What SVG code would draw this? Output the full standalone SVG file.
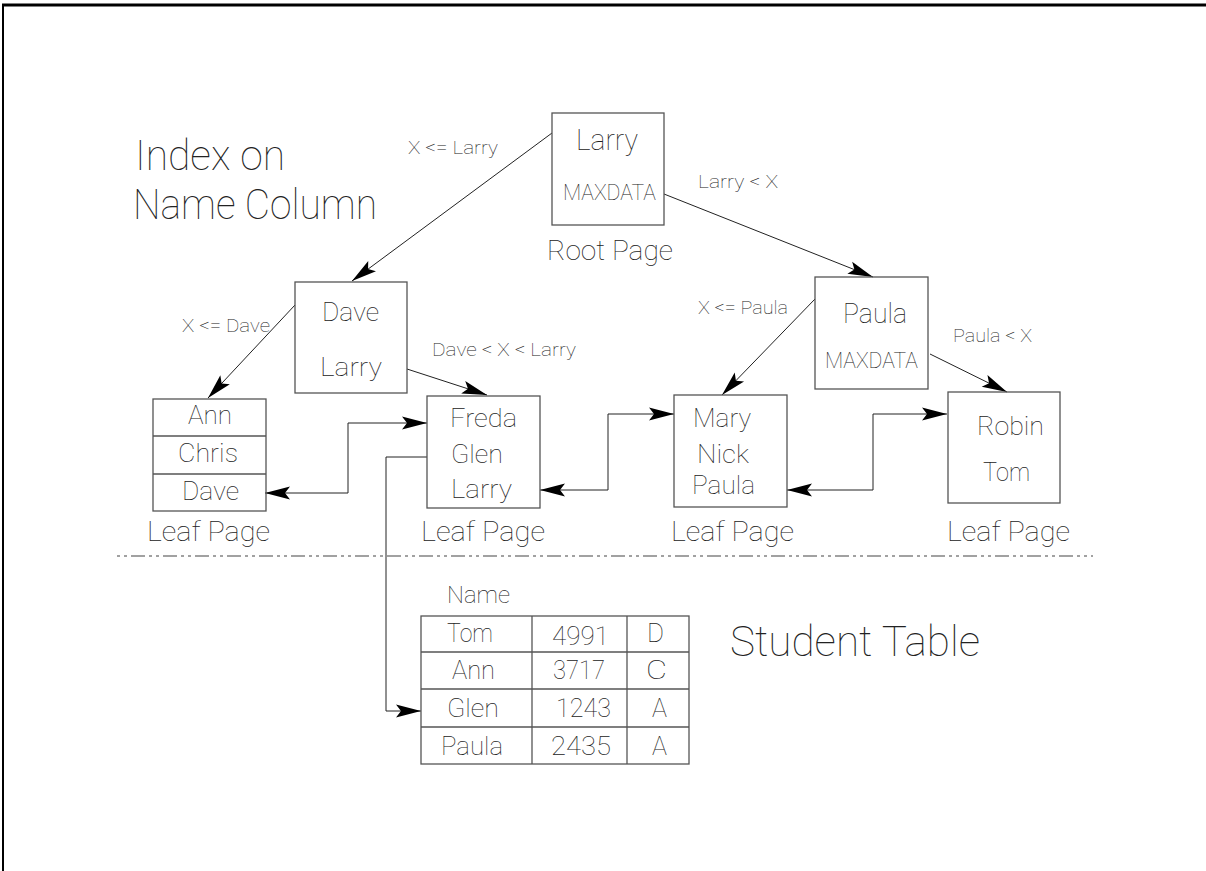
<svg xmlns="http://www.w3.org/2000/svg" width="1206" height="871" viewBox="0 0 1206 871">
<style>
text{font-family:Roboto,"Liberation Sans",sans-serif;font-weight:100;fill:#222}
.box{fill:none;stroke:#555;stroke-width:1.3}
.con{fill:none;stroke:#222;stroke-width:1}
.t42{font-size:42px}.t28{font-size:28px}.t29{font-size:29px}.t27{font-size:27px}.t25{font-size:25px}.t26{font-size:26px}.t23{font-size:23px}.t22{font-size:22px}.t19{font-size:19px}
</style>
<defs>
<marker id="ah" viewBox="-26 -7 27 14" refX="0" refY="0" markerWidth="27" markerHeight="14" markerUnits="userSpaceOnUse" orient="auto-start-reverse">
<path d="M0,0 L-25,-6.5 L-20,0 L-25,6.5 Z" fill="#000"/>
</marker>
</defs>
<rect width="1206" height="871" fill="#fff"/>
<line x1="2" y1="5" x2="1206" y2="5" stroke="#000" stroke-width="3"/>
<line x1="3" y1="4" x2="3" y2="871" stroke="#000" stroke-width="2"/>
<line x1="117" y1="556" x2="1093" y2="556" stroke="#444" stroke-width="1.2" stroke-dasharray="3 4 3 4 14 4"/>

<g id="title">
<text class="t42" x="135" y="170" textLength="150" lengthAdjust="spacingAndGlyphs">Index on</text>
<text class="t42" x="133" y="219" textLength="244" lengthAdjust="spacingAndGlyphs">Name Column</text>
</g>

<g id="connectors">
<line class="con" x1="552" y1="133" x2="352" y2="281" marker-end="url(#ah)"/>
<line class="con" x1="664" y1="194" x2="873" y2="277" marker-end="url(#ah)"/>
<line class="con" x1="295" y1="305" x2="208" y2="398" marker-end="url(#ah)"/>
<line class="con" x1="407" y1="369" x2="487" y2="395" marker-end="url(#ah)"/>
<line class="con" x1="815" y1="299" x2="722" y2="395" marker-end="url(#ah)"/>
<line class="con" x1="930" y1="354" x2="1007" y2="392" marker-end="url(#ah)"/>
<polyline class="con" points="265,493 348,493 348,423 427,423" marker-start="url(#ah)" marker-end="url(#ah)"/>
<polyline class="con" points="540,490 608,490 608,414 674,414" marker-start="url(#ah)" marker-end="url(#ah)"/>
<polyline class="con" points="787,490 873,490 873,414 947,414" marker-start="url(#ah)" marker-end="url(#ah)"/>
<polyline class="con" points="427,457 386,457 386,711 421,711" marker-end="url(#ah)"/>
</g>

<g id="edge-labels">
<text class="t19" x="408" y="154" textLength="90" lengthAdjust="spacingAndGlyphs">X &lt;= Larry</text>
<text class="t19" x="698" y="188" textLength="80" lengthAdjust="spacingAndGlyphs">Larry &lt; X</text>
<text class="t19" x="182" y="332" textLength="88" lengthAdjust="spacingAndGlyphs">X &lt;= Dave</text>
<text class="t19" x="432" y="356" textLength="144" lengthAdjust="spacingAndGlyphs">Dave &lt; X &lt; Larry</text>
<text class="t19" x="698" y="314" textLength="90" lengthAdjust="spacingAndGlyphs">X &lt;= Paula</text>
<text class="t19" x="953" y="342" textLength="79" lengthAdjust="spacingAndGlyphs">Paula &lt; X</text>
</g>

<g id="root">
<rect class="box" x="552" y="113" width="112" height="112"/>
<text class="t29" x="576" y="150" textLength="62" lengthAdjust="spacingAndGlyphs">Larry</text>
<text class="t22" x="563" y="200" textLength="93" lengthAdjust="spacingAndGlyphs">MAXDATA</text>
<text class="t28" x="547" y="260" textLength="126" lengthAdjust="spacingAndGlyphs">Root Page</text>
</g>

<g id="dave-node">
<rect class="box" x="295" y="282" width="112" height="111"/>
<text class="t25" x="322" y="321" textLength="57" lengthAdjust="spacingAndGlyphs">Dave</text>
<text class="t25" x="320" y="376" textLength="62" lengthAdjust="spacingAndGlyphs">Larry</text>
</g>

<g id="paula-node">
<rect class="box" x="815" y="277" width="113" height="112"/>
<text class="t27" x="843" y="323" textLength="64" lengthAdjust="spacingAndGlyphs">Paula</text>
<text class="t22" x="825" y="368" textLength="93" lengthAdjust="spacingAndGlyphs">MAXDATA</text>
</g>

<g id="leaf-ann">
<rect class="box" x="153" y="399" width="113" height="112"/>
<line class="box" x1="153" y1="436" x2="266" y2="436"/>
<line class="box" x1="153" y1="474" x2="266" y2="474"/>
<text class="t25" x="188" y="424" textLength="44" lengthAdjust="spacingAndGlyphs">Ann</text>
<text class="t25" x="178" y="462" textLength="60" lengthAdjust="spacingAndGlyphs">Chris</text>
<text class="t25" x="182" y="500" textLength="57" lengthAdjust="spacingAndGlyphs">Dave</text>
<text class="t28" x="147" y="541" textLength="123" lengthAdjust="spacingAndGlyphs">Leaf Page</text>
</g>

<g id="leaf-freda">
<rect class="box" x="427" y="396" width="113" height="112"/>
<text class="t25" x="450" y="427" textLength="67" lengthAdjust="spacingAndGlyphs">Freda</text>
<text class="t25" x="451" y="463" textLength="52" lengthAdjust="spacingAndGlyphs">Glen</text>
<text class="t25" x="451" y="498" textLength="61" lengthAdjust="spacingAndGlyphs">Larry</text>
<text class="t28" x="421" y="541" textLength="124" lengthAdjust="spacingAndGlyphs">Leaf Page</text>
</g>

<g id="leaf-mary">
<rect class="box" x="674" y="395" width="113" height="112"/>
<text class="t25" x="693" y="427" textLength="58" lengthAdjust="spacingAndGlyphs">Mary</text>
<text class="t25" x="697" y="463" textLength="52" lengthAdjust="spacingAndGlyphs">Nick</text>
<text class="t25" x="692" y="494" textLength="63" lengthAdjust="spacingAndGlyphs">Paula</text>
<text class="t28" x="671" y="541" textLength="123" lengthAdjust="spacingAndGlyphs">Leaf Page</text>
</g>

<g id="leaf-robin">
<rect class="box" x="948" y="392" width="112" height="111"/>
<text class="t25" x="977" y="435" textLength="67" lengthAdjust="spacingAndGlyphs">Robin</text>
<text class="t25" x="983" y="481" textLength="47" lengthAdjust="spacingAndGlyphs">Tom</text>
<text class="t28" x="947" y="541" textLength="123" lengthAdjust="spacingAndGlyphs">Leaf Page</text>
</g>

<g id="student-table">
<text class="t23" x="447" y="603" textLength="63" lengthAdjust="spacingAndGlyphs">Name</text>
<rect class="box" x="421" y="616" width="268" height="148"/>
<line class="box" x1="421" y1="652" x2="689" y2="652"/>
<line class="box" x1="421" y1="689" x2="689" y2="689"/>
<line class="box" x1="421" y1="727" x2="689" y2="727"/>
<line class="box" x1="532" y1="616" x2="532" y2="764"/>
<line class="box" x1="627" y1="616" x2="627" y2="764"/>
<text class="t26" x="447" y="642" textLength="46" lengthAdjust="spacingAndGlyphs">Tom</text>
<text class="t26" x="552" y="645" textLength="57" lengthAdjust="spacingAndGlyphs">4991</text>
<text class="t26" x="647" y="642" textLength="17" lengthAdjust="spacingAndGlyphs">D</text>
<text class="t26" x="452" y="679" textLength="43" lengthAdjust="spacingAndGlyphs">Ann</text>
<text class="t26" x="553" y="679" textLength="52" lengthAdjust="spacingAndGlyphs">3717</text>
<text class="t26" x="646" y="679" textLength="21" lengthAdjust="spacingAndGlyphs">C</text>
<text class="t26" x="447" y="717" textLength="52" lengthAdjust="spacingAndGlyphs">Glen</text>
<text class="t26" x="556" y="717" textLength="55" lengthAdjust="spacingAndGlyphs">1243</text>
<text class="t26" x="652" y="717" textLength="15" lengthAdjust="spacingAndGlyphs">A</text>
<text class="t26" x="441" y="755" textLength="62" lengthAdjust="spacingAndGlyphs">Paula</text>
<text class="t26" x="551" y="755" textLength="60" lengthAdjust="spacingAndGlyphs">2435</text>
<text class="t26" x="652" y="755" textLength="15" lengthAdjust="spacingAndGlyphs">A</text>
</g>

<g id="table-title">
<text class="t42" x="730" y="656" textLength="250" lengthAdjust="spacingAndGlyphs">Student Table</text>
</g>
</svg>
